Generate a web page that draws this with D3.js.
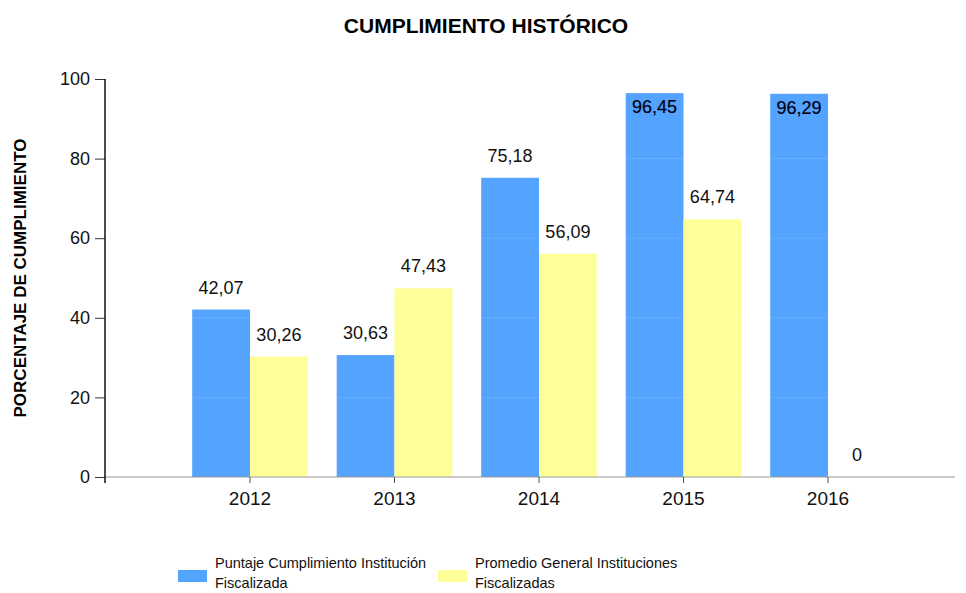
<!DOCTYPE html>
<html>
<head>
<meta charset="utf-8">
<script src="https://cdn.jsdelivr.net/npm/d3@7/dist/d3.min.js"></script>
<style>
  body { margin: 0; background: #fff; }
  text { font-family: "Liberation Sans", Arial, sans-serif; }
</style>
</head>
<body>
<div id="chart"></div>
<script>
const years = ['2012', '2013', '2014', '2015', '2016'];
const puntaje = [42.07, 30.63, 75.18, 96.45, 96.29];
const promedio = [30.26, 47.43, 56.09, 64.74, 0];
const seriesNames = ['Puntaje Cumplimiento Institución|Fiscalizada', 'Promedio General Instituciones|Fiscalizadas'];
const yTicks = [0, 20, 40, 60, 80, 100];

const width = 966, height = 593;
const colors = ['#53a3ff', '#ffff99'];

const svg = d3.select('#chart').append('svg')
    .attr('width', width)
    .attr('height', height);

svg.append('text')
    .attr('x', 486)
    .attr('y', 33)
    .attr('text-anchor', 'middle')
    .style('font-size', '21px')
    .style('font-weight', 'bold')
    .text('CUMPLIMIENTO HISTÓRICO');

const y = d3.scaleLinear().domain([0, 100]).range([477, 79]);
const x = d3.scaleBand().domain(years).range([177.75, 900.25])
    .paddingInner(0.2).paddingOuter(0.1);
const xs = d3.scaleBand().domain([0, 1]).range([0, x.bandwidth()]);

const loc = d3.formatLocale({ decimal: ',', thousands: '.', grouping: [3], currency: ['', ''] });
const fmt = v => v === 0 ? '0' : loc.format('.2f')(v);

const data = years.map((yr, i) => ({ yr, vals: [puntaje[i], promedio[i]] }));

const groups = svg.append('g').selectAll('g')
    .data(data).enter().append('g')
    .attr('transform', d => `translate(${x(d.yr)},0)`);

groups.selectAll('rect')
    .data(d => d.vals.map((v, k) => ({ v, k })))
    .enter().append('rect')
    .attr('x', d => xs(d.k))
    .attr('width', xs.bandwidth())
    .attr('y', d => y(d.v))
    .attr('height', d => y(0) - y(d.v))
    .attr('fill', d => colors[d.k]);

// faint grid lines over the bars
svg.append('g').selectAll('line')
    .data(yTicks.slice(1)).enter().append('line')
    .attr('x1', 106).attr('x2', 955)
    .attr('y1', d => y(d)).attr('y2', d => y(d))
    .attr('stroke', '#fff').attr('stroke-opacity', 0.12);

groups.selectAll('text')
    .data(d => d.vals.map((v, k) => ({ v, k })))
    .enter().append('text')
    .attr('x', d => xs(d.k) + xs.bandwidth() / 2)
    .attr('y', d => d.v > 90 ? y(d.v) + 20 : y(d.v) - 16)
    .attr('text-anchor', 'middle')
    .style('font-size', '18px')
    .attr('fill', d => d.v > 90 ? '#000010' : '#111')
    .attr('stroke', d => d.v > 90 ? '#000010' : 'none')
    .attr('stroke-width', 0.2)
    .text(d => fmt(d.v));

// x axis
const xAxis = svg.append('g')
    .attr('transform', `translate(0,${y(0)})`)
    .call(d3.axisBottom(x).tickSize(6).tickPadding(9));
xAxis.select('.domain').remove();
xAxis.insert('line', ':first-child')
    .attr('x1', 105).attr('x2', 955)
    .attr('stroke', '#999');
xAxis.selectAll('.tick line').attr('stroke', '#555');
xAxis.selectAll('text')
    .style('font-size', '19px')
    .style('font-family', '"Liberation Sans", Arial, sans-serif')
    .attr('fill', '#111');

// y axis
const yAxis = svg.append('g')
    .attr('transform', 'translate(105,0)')
    .call(d3.axisLeft(y).tickValues(yTicks).tickSize(10).tickPadding(5));
yAxis.select('.domain').remove();
yAxis.append('line')
    .attr('y1', y(100)).attr('y2', y(0) + 6)
    .attr('stroke', '#111').attr('stroke-width', 1.5);
yAxis.selectAll('.tick line').attr('stroke', '#333');
yAxis.selectAll('text')
    .style('font-size', '18px')
    .style('font-family', '"Liberation Sans", Arial, sans-serif')
    .attr('fill', '#111');

svg.append('text')
    .attr('transform', 'translate(26,278) rotate(-90)')
    .attr('text-anchor', 'middle')
    .style('font-size', '17px')
    .style('font-weight', 'bold')
    .text('PORCENTAJE DE CUMPLIMIENTO');

// legend
const legendX = [178, 438];
const legend = svg.append('g').selectAll('g')
    .data(seriesNames).enter().append('g')
    .attr('transform', (d, i) => `translate(${legendX[i]},570)`);
legend.append('rect')
    .attr('width', 29).attr('height', 12)
    .attr('fill', (d, i) => colors[i]);
legend.append('text')
    .attr('y', -2)
    .style('font-size', '14.5px')
    .attr('fill', '#111')
    .selectAll('tspan')
    .data(d => d.split('|')).enter().append('tspan')
    .attr('x', 37)
    .attr('dy', (d, j) => j === 0 ? 0 : 20)
    .text(d => d);
</script>
</body>
</html>
